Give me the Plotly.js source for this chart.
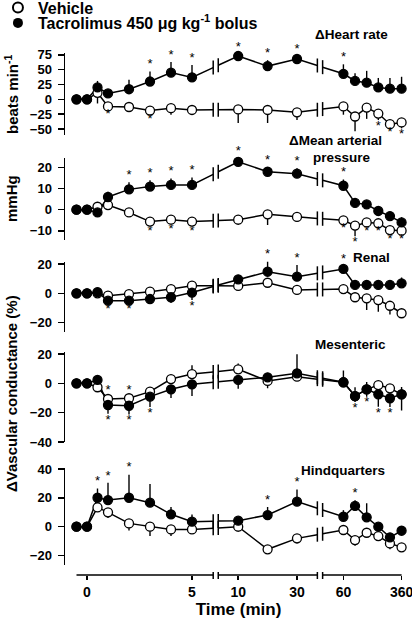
<!DOCTYPE html>
<html><head><meta charset="utf-8">
<script src="https://cdn.plot.ly/plotly-3.0.1.min.js"></script>
<style>html,body{margin:0;padding:0;background:#fff}#chart{width:412px;height:621px}</style>
</head><body><div id="chart"></div>
<script>
// ---------- data ----------
const times = [-0.5, 0, 0.5, 1, 2, 3, 4, 5, 10, 20, 30, 60, 120, 180, 240, 300, 360];
const tickTimes = [0, 5, 10, 30, 60, 360];
const tickLabels = ['0', '5', '10', '30', '60', '360'];

// Heart rate (beats/min)
const hrTac      = [0, 0, 20, 10, 17, 30, 45, 37, 73, 56, 68, 43, 31, 28, 20, 18, 18];
const hrTacUp    = [0, 0, 11, 3, 16, 17, 18, 21, 3, 10, 4, 16, 13, 20, 16, 18, 20];
const hrTacDown  = [0, 0, 0, 0, 0, 0, 0, 0, 0, 0, 0, 0, 0, 0, 0, 0, 0];
const hrTacSig   = [0, 0, 0, 0, 0, 1, 1, 1, 1, 1, 1, 1, 0, 0, 0, 0, 0];
const hrVeh      = [0, 0, 11, -12, -13, -19, -15, -18, -17, -18, -22, -12, -29, -14, -24, -42, -39];
const hrVehUp    = [0, 0, 0, 0, 0, 0, 0, 0, 0, 0, 0, 0, 0, 0, 0, 0, 0];
const hrVehDown  = [0, 0, 18, 3, 3, 4, 11, 5, 23, 22, 13, 14, 25, 19, 11, 4, 10];
const hrVehSig   = [0, 0, 0, -1, 0, -1, 0, 0, 0, 0, 0, 0, 0, 0, -1, -1, -1];

// Mean arterial pressure (mmHg)
const mapTac     = [0, 0, -1.3, 6, 9.6, 10.9, 11.7, 11.7, 22.6, 17.9, 17, 11.3, 3.2, 2.5, -0.6, -3, -6];
const mapTacUp   = [0, 0, 0, 2.5, 3.4, 3, 3, 3.5, 1.5, 2, 2.5, 3, 1, 1.5, 2, 2, 2.5];
const mapTacDown = [0, 0, 0, 0, 0, 0, 0, 0, 0, 0, 0, 0, 0, 0, 0, 0, 0];
const mapTacSig  = [0, 0, 0, 0, 1, 1, 1, 1, 1, 1, 1, 1, 0, 0, 0, 0, 0];
const mapVeh     = [0, 0, 1.4, 2.2, -1.3, -5.6, -4.7, -5.6, -4.7, -2.2, -3.4, -5, -7.5, -6, -6.4, -9.6, -9.9];
const mapVehUp   = [0, 0, 0, 0, 0, 0, 0, 0, 0, 0, 0, 0, 0, 0, 0, 0, 0];
const mapVehDown = [0, 0, 1, 0.5, 0.5, 1.5, 1.5, 1.5, 2.5, 5, 2, 1, 5, 1.5, 1, 1.5, 1];
const mapVehSig  = [0, 0, 0, 0, 0, -1, -1, -1, 0, 0, 0, -1, -1, -1, -1, -1, -1];

// Renal vascular conductance (%)
const renTac     = [0, 0, 0.8, -5, -5, -3.9, -2.7, 0.5, 9.5, 14.7, 11.3, 16.6, 5.7, 5.7, 5.7, 5.7, 6.8];
const renTacUp   = [0, 0, 0, 0, 0, 0, 0, 0, 2, 8, 8, 2, 0, 0, 0, 0, 4];
const renTacDown = [0, 0, 0, 1.5, 1.5, 2, 4, 5, 0, 0, 0, 0, 0, 0, 0, 0, 0];
const renTacSig  = [0, 0, 0, -1, -1, 0, 0, -1, 0, 1, 1, 1, 0, 0, 0, 0, 0];
const renVeh     = [0, 0, 0, -1.6, -0.5, 1.1, 2.9, 5.2, 5, 7.2, 2.3, 2.9, -2.7, -3.4, -4.6, -8.5, -13.6];
const renVehUp   = [0, 0, 0, 0, 0, 0, 0, 0, 0, 0, 0, 0, 0, 0, 0, 0, 0];
const renVehDown = [0, 0, 0, 0, 0, 0, 0, 0, 1, 3, 3, 1, 2, 8, 8, 6, 3];
const renVehSig  = [0, 0, 0, 0, 0, 0, 0, 0, 0, 0, 0, 0, 0, 0, 0, 0, 0];

// Mesenteric vascular conductance (%)
const mesTac     = [0, 0, 2.3, -14.8, -15.3, -9.1, -4.1, -0.7, 2.3, 4.1, 6.8, 0.7, -8.7, -4.1, -7.5, -10.2, -7.5];
const mesTacUp   = [0, 0, 0, 0, 0, 0, 0, 0, 0, 3, 13, 8, 6, 5, 0, 0, 5];
const mesTacDown = [0, 0, 0, 6, 6, 7, 6, 8, 6, 0, 0, 3, 4, 5, 8.5, 6, 11];
const mesTacSig  = [0, 0, 0, -1, -1, -1, 0, 0, 0, 0, 0, 0, -1, -1, -1, -1, 0];
const mesVeh     = [0, 0, -2.7, -10.7, -10.2, -5.7, 2.9, 6.3, 9.5, 1.6, 4.5, 0.7, -8.7, -4.1, -1.2, -3.4, -7.5];
const mesVehUp   = [0, 0, 0, 1, 1, 0, 0, 6, 4, 0, 0, 0, 0, 0, 0, 0, 0];
const mesVehDown = [0, 0, 0, 0, 0, 0, 0, 0, 0, 5, 3, 0, 0, 0, 0, 0, 0];
const mesVehSig  = [0, 0, 0, 1, 1, 0, 0, 0, 0, 0, 0, 0, 0, 0, 0, 0, 0];

// Hindquarters vascular conductance (%)
const hinTac     = [0, 0, 20.1, 18.5, 20.1, 16.7, 8.6, 3.5, 4.2, 8.1, 17.4, 6.9, 14.4, 6.5, 0, -7.4, -2.8];
const hinTacUp   = [0, 0, 6.5, 12, 16, 13, 5, 5, 2, 5.6, 8.5, 4.6, 4, 9.7, 0, 0, 0];
const hinTacDown = [0, 0, 0, 0, 0, 0, 0, 0, 0, 0, 0, 0, 0, 0, 0, 0, 0];
const hinTacSig  = [0, 0, 1, 1, 1, 0, 0, 0, 0, 1, 1, 0, 1, 0, 0, 0, 0];
const hinVeh     = [0, 0, 13.4, 10, 2.3, 0, -1.9, -1.9, 0, -15.7, -8.1, -2.3, -9.3, -4.2, -6.5, -11.6, -14.3];
const hinVehUp   = [0, 0, 0, 0, 0, 0, 0, 0, 0, 0, 0, 0, 0, 0, 0, 0, 0];
const hinVehDown = [0, 0, 2, 4, 5, 6.5, 4.5, 2, 3.5, 0, 3.5, 2, 4, 2, 2, 4, 3];
const hinVehSig  = [0, 0, 0, 0, 0, 0, 0, 0, 0, 0, 0, 0, 0, 0, 0, 0, 0];

// ---------- broken time scale ----------
function pos(t) {
  if (t <= 5) return t;
  if (t <= 30) return 7.2 + (t - 10) * 0.14;
  return 12.21 + (t - 60) * (2.77 / 300);
}
const BREAKS = [[6.01, 6.25], [10.97, 11.22]];

const W = 412, H = 621;
const FONT = 'Liberation Sans, Arial, sans-serif';
const pyPaper = px => 1 - px / H;

// panel layout (pixel domains + value ranges)
const panels = [
  {ax: 'y',  dom: [53, 135],    range: [-60.2, 78.1],  ticks: [-50, -25, 0, 25, 50, 75],
   tac: [hrTac, hrTacUp, hrTacDown, hrTacSig], veh: [hrVeh, hrVehUp, hrVehDown, hrVehSig]},
  {ax: 'y2', dom: [158.3, 240], range: [-14.29, 24.25], ticks: [-10, 0, 10, 20],
   tac: [mapTac, mapTacUp, mapTacDown, mapTacSig], veh: [mapVeh, mapVehUp, mapVehDown, mapVehSig]},
  {ax: 'y3', dom: [261.7, 331.7], range: [-26.18, 21.54], ticks: [-20, 0, 20],
   tac: [renTac, renTacUp, renTacDown, renTacSig], veh: [renVeh, renVehUp, renVehDown, renVehSig]},
  {ax: 'y4', dom: [351.7, 442.3], range: [-40.22, 21.54], ticks: [-40, -20, 0, 20],
   tac: [mesTac, mesTacUp, mesTacDown, mesTacSig], veh: [mesVeh, mesVehUp, mesVehDown, mesVehSig]},
  {ax: 'y5', dom: [467.7, 565], range: [-26.6, 40.97], ticks: [-20, 0, 20, 40],
   tac: [hinTac, hinTacUp, hinTacDown, hinTacSig], veh: [hinVeh, hinVehUp, hinVehDown, hinVehSig]}
];

const U = times.map(pos);
const traces = [];

function lineWithBreaks(vals) {
  const xs = [], ys = [], bx = [], by = [];
  for (let i = 0; i < vals.length; i++) {
    xs.push(U[i]); ys.push(vals[i]);
    if (i < vals.length - 1) {
      for (const [b0, b1] of BREAKS) {
        if (U[i] < b0 && U[i + 1] > b1) {
          const f = u => vals[i] + (vals[i + 1] - vals[i]) * (u - U[i]) / (U[i + 1] - U[i]);
          xs.push(b0, null, b1); ys.push(f(b0), null, f(b1));
          bx.push(b0, b1); by.push(f(b0), f(b1));
        }
      }
    }
  }
  return {xs, ys, bx, by};
}

function addSeries(p, s, filled) {
  const [vals, up, down, sig] = s;
  const yref = p.ax;
  const [lo, hi] = p.range;
  const L = lineWithBreaks(vals);
  traces.push({x: L.xs, y: L.ys, yaxis: yref, mode: 'lines', connectgaps: false, cliponaxis: false,
    line: {color: '#000', width: 1.5}, showlegend: false, hoverinfo: 'skip'});
  traces.push({x: L.bx, y: L.by, yaxis: yref, mode: 'markers', showlegend: false, hoverinfo: 'skip', cliponaxis: false,
    marker: {symbol: 'line-ns', size: 10, line: {color: '#000', width: 1.5}}});
  return () => {
    traces.push({x: U, y: vals, yaxis: yref, mode: 'markers', showlegend: false, cliponaxis: false,
      marker: {symbol: 'circle', size: 9, color: filled ? '#000' : '#fff', line: {color: '#000', width: 1.3}},
      error_y: {type: 'data', symmetric: false, array: up, arrayminus: down, width: 0, thickness: 1.4, color: '#000'}});
    const sx = [], sy = [], tx = [], ty = [];
    sig.forEach((d, i) => {
      if (d > 0) { sx.push(U[i]); sy.push(Math.min(vals[i] + up[i], hi)); }
      else if (d < 0) { tx.push(U[i]); ty.push(Math.max(vals[i] - down[i], lo)); }
    });
    if (sx.length) traces.push({x: sx, y: sy, yaxis: yref, mode: 'text', text: sx.map(() => '*'), cliponaxis: false,
      textposition: 'top center', textfont: {family: FONT, size: 13, color: '#000'}, showlegend: false, hoverinfo: 'skip'});
    if (tx.length) traces.push({x: tx, y: ty, yaxis: yref, mode: 'text', text: tx.map(() => '*'), cliponaxis: false,
      textposition: 'bottom center', textfont: {family: FONT, size: 13, color: '#000'}, showlegend: false, hoverinfo: 'skip'});
  };
}

panels.forEach(p => {
  const vehMarks = addSeries(p, p.veh, false);
  const tacMarks = addSeries(p, p.tac, true);
  vehMarks();
  tacMarks();
});

// legend entries
traces.push({x: [null], y: [null], mode: 'markers', name: 'Vehicle', showlegend: true, legend: 'legend',
  marker: {symbol: 'circle', size: 10, color: '#fff', line: {color: '#000', width: 2}}});
traces.push({x: [null], y: [null], mode: 'markers', name: 'Tacrolimus 450 \u03bcg kg<sup>-1</sup> bolus', showlegend: true,
  legend: 'legend2', marker: {symbol: 'circle', size: 10, color: '#000'}});

const xLeft = -22 / 21, xRight = (W - 87) / 21;
const legendFont = {family: FONT, size: 16, weight: 'bold', color: '#000'};
const layout = {
  width: W, height: H,
  margin: {l: 0, r: 0, t: 0, b: 0, autoexpand: false},
  paper_bgcolor: '#fff', plot_bgcolor: 'rgba(0,0,0,0)',
  font: {family: FONT, color: '#000'},
  showlegend: true,
  legend: {x: -0.005, y: pyPaper(7.5), xanchor: 'left', yanchor: 'middle', bgcolor: 'rgba(0,0,0,0)',
    font: legendFont, itemwidth: 30},
  legend2: {x: -0.005, y: pyPaper(23), xanchor: 'left', yanchor: 'middle', bgcolor: 'rgba(0,0,0,0)',
    font: legendFont, itemwidth: 30},
  xaxis: {domain: [65 / W, 1], range: [xLeft, xRight], anchor: 'free', position: pyPaper(575),
    showline: false, showgrid: false, zeroline: false, ticks: 'outside', ticklen: 4, tickwidth: 1.5,
    tickcolor: '#000', tickvals: tickTimes.map(pos), ticktext: tickLabels, ticklabeloverflow: 'allow',
    tickfont: {family: FONT, size: 14, weight: 'bold'},
    title: {text: 'Time (min)', font: {family: FONT, size: 17, weight: 'bold'}, standoff: 0},
    fixedrange: true},
  shapes: [],
  annotations: []
};

panels.forEach((p, k) => {
  const name = k === 0 ? 'yaxis' : 'yaxis' + (k + 1);
  layout[name] = {domain: [pyPaper(p.dom[1]), pyPaper(p.dom[0])], range: p.range, anchor: 'x',
    showline: true, linewidth: 1.5, linecolor: '#000', showgrid: false, zeroline: false,
    ticks: 'outside', ticklen: 6, tickwidth: 1.5, tickcolor: '#000', tickvals: p.ticks,
    tickfont: {family: FONT, size: 13, weight: 'bold'}, ticklabelstandoff: 3, fixedrange: true};
});

// broken x axis line
const axY = pyPaper(575);
const segs = [[U[0], BREAKS[0][0]], [BREAKS[0][1], BREAKS[1][0]], [BREAKS[1][1], U[U.length - 1]]];
segs.forEach(([a, b]) => layout.shapes.push({type: 'line', xref: 'x', yref: 'paper', x0: a, x1: b, y0: axY, y1: axY,
  line: {color: '#000', width: 1.5}}));
BREAKS.flat().forEach(b => layout.shapes.push({type: 'line', xref: 'x', yref: 'paper', x0: b, x1: b,
  y0: pyPaper(572), y1: pyPaper(579), line: {color: '#000', width: 1.5}}));

// panel titles
const ttl = (text, xpx, ypx) => layout.annotations.push({text, xref: 'paper', yref: 'paper',
  x: xpx / W, y: pyPaper(ypx), xanchor: 'right', yanchor: 'middle', showarrow: false,
  font: {family: FONT, size: 13.5, weight: 'bold'}});
ttl('\u0394Heart rate', 390, 34);
ttl('\u0394Mean arterial', 384, 140);
ttl('pressure', 373, 157);
ttl('Renal', 392, 257);
ttl('Mesenteric', 388, 344);
ttl('Hindquarters', 387, 470);

// y axis titles
const ytl = (text, ypx) => layout.annotations.push({text, xref: 'paper', yref: 'paper',
  x: 11 / W, y: pyPaper(ypx), xanchor: 'center', yanchor: 'middle', textangle: -90, showarrow: false,
  font: {family: FONT, size: 15, weight: 'bold'}});
ytl('beats min<sup>-1</sup>', 94);
ytl('mmHg', 199);
ytl('\u0394Vascular conductance (%)', 394);

Plotly.newPlot('chart', traces, layout, {staticPlot: true, displayModeBar: false});
</script>
</body></html>
